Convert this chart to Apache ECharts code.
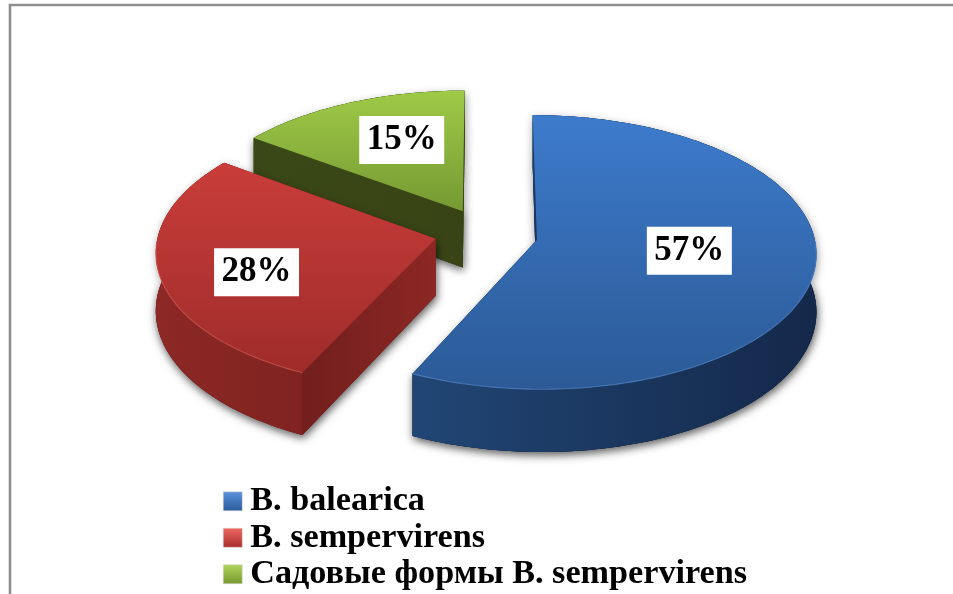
<!DOCTYPE html>
<html>
<head>
<meta charset="utf-8">
<style>html,body{margin:0;padding:0;background:#fff}#c{width:953px;height:594px}</style>
<script src="https://cdn.jsdelivr.net/npm/echarts@6/dist/echarts.min.js"></script>
</head>
<body>
<div id="c"></div>
<script>
const speciesNames = ['B. balearica', 'B. sempervirens', 'Садовые формы B. sempervirens'];
const shareValues = [57, 28, 15];

// palettes: top face gradient, outer wall, radial wall, rim, legend icon
const topColors = [['#3d7bcc', '#2b5a96'], ['#c93d3a', '#9f2c2a'], ['#9fca47', '#759a33']];
const outerColors = [['#214675', '#14284a'], ['#8c2825', '#751f1d'], ['#3a4716', '#3a4716']];
const radialColors = [['#1f4070', '#16305a'], ['#721f1d', '#8c2724'], ['#3a4716', '#384415']];
const rimColors = ['#5f93d6', '#dc6560', '#b5d86a'];
const legendColors = [['#5b93dc', '#2a5a9c'], ['#ee6a64', '#a82c2a'], ['#b0d45a', '#76982f']];

// projection layout (perspective of a flat disc)
const VIEW = { cx: 486, cy: 234.5, bx: 277, ay: 135, persp: 0.0882, depth: 57, explode: 0.1875, lift: [0, -2, -1] };
const LABEL = { radius: [0.554, 0.652, 0.52], nudgeY: [-6, 11, -13], font: 'bold 35px "Liberation Serif"' };

const total = shareValues.reduce((a, b) => a + b, 0);

function renderSlice(index) {
  const project = (X, V) => {
    const d = 1 - VIEW.persp * V;
    return [VIEW.cx + VIEW.bx * X / d, VIEW.cy + VIEW.lift[index] + VIEW.ay * V / d, VIEW.depth / d];
  };
  return function (params, api) {
    const value = api.value(0);
    let before = 0;
    for (let i = 0; i < index; i++) before += shareValues[i];
    const a0 = before / total * 2 * Math.PI;
    const a1 = (before + value) / total * 2 * Math.PI;
    const mid = (a0 + a1) / 2;
    const ex = VIEW.explode * Math.sin(mid), ev = -VIEW.explode * Math.cos(mid);
    const at = (a, r) => project(ex + r * Math.sin(a), ev - r * Math.cos(a));

    const arc = [];
    const steps = Math.ceil((a1 - a0) / 0.02);
    for (let i = 0; i <= steps; i++) arc.push(at(a0 + (a1 - a0) * i / steps, 1));
    const apex = at(0, 0);
    const up = p => [p[0], p[1]];
    const down = p => [p[0], p[1] + p[2]];

    const topPts = [up(apex)].concat(arc.map(up));
    const outerPts = arc.map(up).concat(arc.slice().reverse().map(down));
    const first = arc[0], last = arc[arc.length - 1];
    const wallA = [up(apex), up(first), down(first), down(apex)];
    const wallB = [up(apex), up(last), down(last), down(apex)];
    const bottomPts = [down(apex)].concat(arc.map(down));

    const xs = outerPts.concat(wallA, wallB).map(p => p[0]);
    const minX = Math.min.apply(null, xs), maxX = Math.max.apply(null, xs);
    const hGrad = (c, x0, x1) => ({ type: 'linear', global: true, x: x0, y: 0, x2: x1, y2: 0,
      colorStops: [{ offset: 0, color: c[0] }, { offset: 1, color: c[1] }] });
    const poly = (points, fill, extra) => ({ type: 'polygon', shape: { points }, style: Object.assign({ fill }, extra || {}) });
    const shadow = { shadowColor: 'rgba(0,0,0,0.38)', shadowBlur: 9, shadowOffsetX: 1, shadowOffsetY: 3 };
    const dark = outerColors[index][1];

    const rimPts = arc.filter(p => p[1] > VIEW.cy + 8).map(up);
    const labelPt = at(mid, LABEL.radius[index]);

    return {
      type: 'group',
      children: [
        poly(bottomPts, dark, shadow),
        poly(outerPts, dark, shadow),
        poly(wallA, dark, shadow),
        poly(wallB, dark, shadow),
        poly(wallB, hGrad(radialColors[index], Math.min(apex[0], last[0]), Math.max(apex[0], last[0]))),
        poly(wallA, hGrad(radialColors[index], Math.min(apex[0], first[0]), Math.max(apex[0], first[0]))),
        poly(outerPts, hGrad(outerColors[index], minX, maxX)),
        poly(topPts, { type: 'linear', x: 0, y: 0, x2: 0, y2: 1,
          colorStops: [{ offset: 0, color: topColors[index][0] }, { offset: 1, color: topColors[index][1] }] }),
        { type: 'polyline', shape: { points: rimPts }, style: { fill: 'none', stroke: rimColors[index], lineWidth: 1.1, opacity: 0.6 } },
        { type: 'text', z2: 50, style: {
            text: value + '%', x: labelPt[0], y: labelPt[1] + LABEL.nudgeY[index],
            font: LABEL.font, fill: '#000', align: 'center', verticalAlign: 'middle',
            backgroundColor: '#fff', padding: [6.5, 7.5, 6.5, 7.5] } }
      ]
    };
  };
}

const paintOrder = [3, 2, 1];
const chart = echarts.init(document.getElementById('c'), null, { renderer: 'canvas' });
chart.setOption({
  animation: false,
  backgroundColor: '#fff',
  tooltip: { show: false },
  legend: {
    left: 218, top: 478, height: 200, orient: 'vertical', itemWidth: 19, itemHeight: 19, itemGap: 0,
    selectedMode: false,
    textStyle: { fontFamily: 'Liberation Serif', fontWeight: 'bold', fontSize: 34.2, color: '#000', lineHeight: 36.5, padding: [0, 0, 0, 3] },
    data: speciesNames.map((name, i) => ({
      name, icon: 'rect',
      itemStyle: { borderColor: '#d8d8d8', borderWidth: 0.5, color: { type: 'linear', x: 0, y: 0, x2: 0, y2: 1,
        colorStops: [{ offset: 0, color: legendColors[i][0] }, { offset: 1, color: legendColors[i][1] }] } }
    }))
  },
  graphic: [{
    type: 'polyline', silent: true, z: 0,
    shape: { points: [[10, 594], [10, 5], [953, 5]] },
    style: { fill: 'none', stroke: '#8f8f8f', lineWidth: 2.6 }
  }],
  series: speciesNames.map((name, i) => ({
    type: 'custom', name, coordinateSystem: 'none', z: paintOrder[i], silent: true,
    itemStyle: { color: topColors[i][0] },
    data: [[shareValues[i]]],
    renderItem: renderSlice(i)
  }))
});
</script>
</body>
</html>
